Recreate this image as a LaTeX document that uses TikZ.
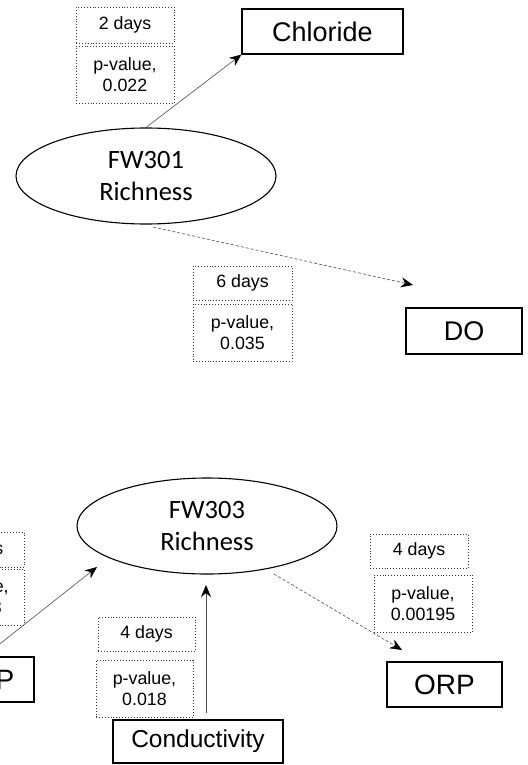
\documentclass[tikz,border=0pt]{standalone}
\usepackage{fontspec}
\setmainfont{Liberation Sans}
\newfontfamily\richfont{Carlito}
\usetikzlibrary{arrows.meta,shapes.geometric}

\begin{document}
\begin{tikzpicture}[x=1pt,y=-1pt]
	\tikzstyle{lag box}=[draw=black!80,dotted,line width=0.9pt,inner sep=0pt,align=center,minimum width=98pt,font=\fontsize{17.8}{21}\selectfont]
	\tikzstyle{var box}=[draw,line width=1.2pt,inner sep=0pt,font=\fontsize{27}{30}\selectfont]
	\tikzstyle{richness}=[ellipse,draw,line width=1.1pt,inner sep=0pt,align=center,minimum width=260pt,minimum height=96pt,font=\richfont\fontsize{26.5}{32}\selectfont]
	\tikzstyle{link}=[draw=black!70,line width=0.6pt,-{Stealth[length=12pt,width=10pt,color=black]}]
	\tikzstyle{weak link}=[link,dash pattern=on 3pt off 2pt]

	\useasboundingbox (0,0) rectangle (527,765);
	\clip (0,0) rectangle (527,765);

	\node[richness] (r301) at (146,176) {FW301\\Richness};
	\node[var box,minimum width=161pt,minimum height=45pt] (chloride) at (322.5,31.5) {Chloride};
	\node[var box,minimum width=116pt,minimum height=46pt] (do) at (464,331) {DO};
	\node[lag box,minimum height=36pt] (lag1) at (125,25) {2 days};
	\node[lag box,minimum height=57pt] (pv1) at (125,74.5) {p-value,\\0.022};
	\node[lag box,minimum width=99pt,minimum height=34pt] (lag2) at (242.5,283) {6 days};
	\node[lag box,minimum width=99pt,minimum height=57pt] (pv2) at (242.5,332.5) {p-value,\\0.035};

	\coordinate (do tip) at (413,285);
	\coordinate (r301 out) at (153,227);
	\draw[link] (r301.north) -- (chloride.south west);
	\draw[weak link] (r301 out) -- (do tip);

	\node[richness] (r303) at (207,526) {FW303\\Richness};
	\node[var box,minimum width=170pt,minimum height=43pt,font=\fontsize{24.5}{28}\selectfont] (cond) at (198,741.5) {Conductivity};
	\node[var box,minimum width=115pt,minimum height=45pt,font=\fontsize{28}{32}\selectfont] (orp) at (444.5,684.5) {ORP};
	\node[var box,minimum width=100pt,minimum height=45pt,font=\fontsize{28}{32}\selectfont] (left) at (-16,679.5) {\phantom{OR}P};
	\node[lag box,minimum width=94pt,minimum height=35pt] (lag3) at (-23,549.5) {\phantom{0 day}s};
	\node[lag box,minimum width=94pt,minimum height=56pt] (pv3) at (-23,597) {\phantom{p-valu}e,\\\phantom{0.01}3\kern-5pt};
	\node[lag box,minimum width=97pt,minimum height=34pt] (lag4) at (146.5,634) {4 days};
	\node[lag box,minimum width=97pt,minimum height=57pt] (pv4) at (144.5,688.5) {p-value,\\0.018};
	\node[lag box,minimum height=34pt] (lag5) at (419,551) {4 days};
	\node[lag box,minimum height=57pt] (pv5) at (423,603.5) {p-value,\\0.00195};

	\coordinate (left tip) at (97,567);
	\coordinate (cond out) at (206,713);
	\coordinate (cond tip) at (206,585);
	\coordinate (r303 out) at (274,574);
	\coordinate (orp tip) at (402,650);
	\draw[link] (left.north) -- (left tip);
	\draw[link] (cond out) -- (cond tip);
	\draw[weak link] (r303 out) -- (orp tip);
\end{tikzpicture}
\end{document}
